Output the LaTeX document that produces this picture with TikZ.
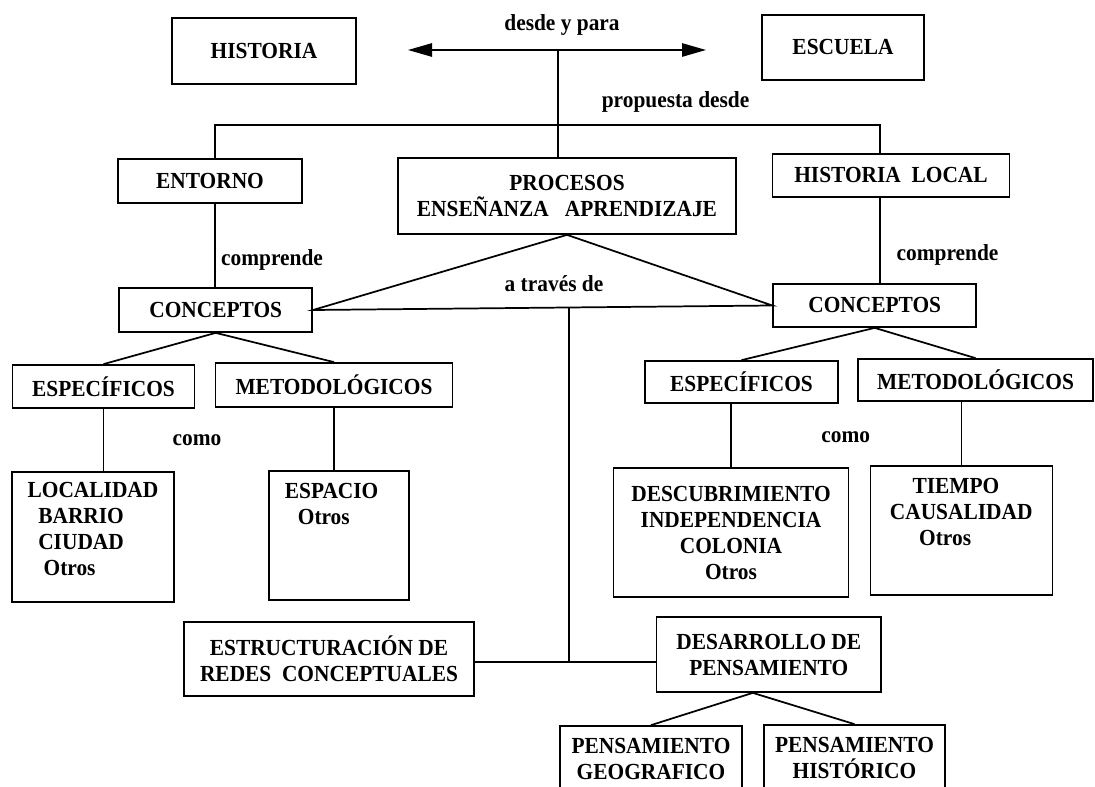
\documentclass[tikz,border=0pt]{standalone}
\usepackage{fontspec}
\setmainfont[FakeStretch=0.93]{Liberation Serif}
\usetikzlibrary{arrows.meta,calc}

\begin{document}
\begin{tikzpicture}[x=0.75pt,y=0.75pt,yscale=-1,xscale=1,line width=1.3pt,
    every node/.style={font=\fontsize{17.25}{19.5}\selectfont\bfseries},
    box/.style={draw,line width=1.3pt,inner sep=0pt,align=center},
    sz/.style 2 args={minimum width=#1*0.75pt,minimum height=#2*0.75pt},
    txt/.style={inner sep=0.75pt,align=left}]
    \clip (0,0) rectangle (1095,787);

    %Shape: Rectangle
    \node[box,sz={184}{66}] (historia) at (264,51) {HISTORIA};
    \node[box,sz={162}{65}] (escuela) at (843,47.5) {ESCUELA};
    \node[box,sz={184}{44}] (entorno) at (210,181) {ENTORNO};
    \node[box,sz={338}{76}] (procesos) at (567,196) {PROCESOS\\ENSEÑANZA\ \ \ APRENDIZAJE};
    \node[box,sz={237}{43}] (hlocal) at (891,175.5) {HISTORIA\ \ LOCAL};
    \node[box,sz={193}{44}] (concL) at (215.7,310) {CONCEPTOS};
    \node[box,sz={203}{43}] (concR) at (874.7,305.5) {CONCEPTOS};
    \node[box,sz={182}{43}] (espL) at (103.5,386.5) {ESPECÍFICOS};
    \node[box,sz={237}{44}] (metL) at (334,385) {METODOLÓGICOS};
    \node[box,sz={193}{42}] (espR) at (741.5,382) {ESPECÍFICOS};
    \node[box,sz={235}{42}] (metR) at (975.5,380) {METODOLÓGICOS};
    \node[box,sz={162}{130},align=left] (loc) at (93,537) {LOCALIDAD\\\hspace*{8pt}BARRIO\\\hspace*{8pt}CIUDAD\\\hspace*{12pt}Otros\\[-7pt]};
    \node[box,sz={140}{129}] (espacio) at (339,535.5) {};
    \node[box,sz={235}{129}] (descub) at (731,532.5) {DESCUBRIMIENTO\\INDEPENDENCIA\\COLONIA\\Otros};
    \node[box,sz={182}{129}] (tiempo) at (961.5,530.5) {};
    \node[box,sz={290}{74}] (estruct) at (329,659) {ESTRUCTURACIÓN DE\\REDES\ \ CONCEPTUALES};
    \node[box,sz={224.5}{75}] (desarrollo) at (768.8,654.5) {DESARROLLO DE\\PENSAMIENTO};
    \node[box,sz={182}{66}] (pgeo) at (651,759) {PENSAMIENTO\\GEOGRAFICO};
    \node[box,sz={181}{66}] (phist) at (854.5,758) {PENSAMIENTO\\HISTÓRICO};

    % Text Node
    \node[txt,anchor=north west] (espaciotxt) at (283,481) {ESPACIO\\\hspace*{9.75pt}Otros};
    \node[txt,anchor=north west] (tiempotxt) at (888,476) {\hspace*{17pt}TIEMPO\\CAUSALIDAD\\\hspace*{22pt}Otros};
    \node[txt] (desde) at (562,25) {desde y para};
    \node[txt] (propuesta) at (675.6,102) {propuesta desde};
    \node[txt] (comprL) at (272,260) {comprende};
    \node[txt] (comprR) at (947.5,255) {comprende};
    \node[txt] (traves) at (554,284) {a través de};
    \node[txt] (comoL) at (197,440) {como};
    \node[txt] (comoR) at (845.7,437) {como};

    %Straight Lines
    \coordinate (arrL) at (408,50);
    \coordinate (arrR) at (706,50);
    \coordinate (arrM) at (558,50);
    \draw[{Triangle[length=18pt,width=10pt]}-{Triangle[length=18pt,width=10pt]}] (arrL) -- (arrR);
    \draw (arrM) -- (arrM |- procesos.north);
    \coordinate (propL) at (215,125);
    \coordinate (propR) at (880,125);
    \draw (propL |- entorno.north) -- (propL) -- (propR) -- (propR |- hlocal.north);
    \draw (propL |- entorno.south) -- (propL |- concL.north);
    \draw (propR |- hlocal.south) -- (propR |- concR.north);
    \draw (concL.east) -- (procesos.south) -- (concR.west) -- cycle;
    \coordinate (base) at ($(concL.east)!0.557!(concR.west)$);
    \coordinate (estrE) at ([yshift=2.25pt]estruct.east);
    \draw (base) -- (base |- estrE);
    \draw (estrE) -- (estrE -| desarrollo.west);
    \draw (espL.north) -- (concL.south) -- (metL.north);
    \draw (espL.south) -- (espL.south |- loc.north);
    \draw (metL.south) -- (metL.south |- espacio.north);
    \draw (espR.north) -- (concR.south) -- (metR.north);
    \draw (descub.north |- espR.south) -- (descub.north);
    \draw (tiempo.north |- metR.south) -- (tiempo.north);
    \coordinate (desB) at ([xshift=-12pt]desarrollo.south);
    \draw (pgeo.north) -- (desB) -- (phist.north);
\end{tikzpicture}
\end{document}
